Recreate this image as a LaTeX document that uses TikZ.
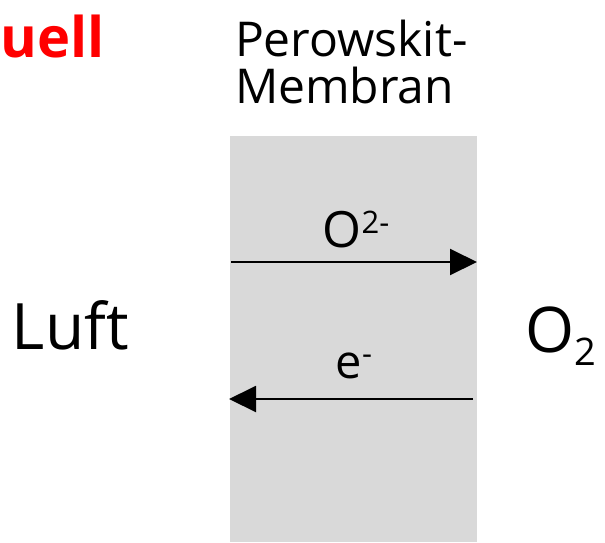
\documentclass[tikz,border=0pt]{standalone}
\usepackage{fontspec}
\setmainfont{Open Sans}
\usetikzlibrary{arrows.meta}
\definecolor{membran}{HTML}{D9D9D9}
\definecolor{titlered}{HTML}{FF0000}
\tikzset{
  lbl/.style={inner sep=0pt, outer sep=0pt},
  flow/.style={line width=2pt, -{Triangle[length=27pt,width=26pt]}},
}
\begin{document}
\begin{tikzpicture}[x=1pt,y=1pt]
\useasboundingbox (0,0) rectangle (605,-542);
\fill[membran] (230,-136) rectangle (477,-542);
\coordinate (aL) at (231,-262);
\coordinate (aR) at (477,-262);
\coordinate (bR) at (473,-399);
\coordinate (bL) at (229,-399);
\draw[flow] (aL) -- (aR);
\draw[flow] (bR) -- (bL);
\node[lbl, anchor=base east, text=titlered] (titel) at (105,-57) {\fontsize{56}{56}\selectfont\bfseries uell};
\node[lbl, anchor=base west] (mem1) at (235,-56) {\fontsize{48}{48}\selectfont Perowskit-};
\node[lbl, anchor=base west] (mem2) at (235,-103) {\fontsize{48}{48}\selectfont Membran};
\node[lbl, anchor=base west] (luft) at (12,-349) {\fontsize{64}{64}\selectfont Luft};
\node[lbl, anchor=base west] (o2) at (525,-352) {\fontsize{63}{63}\selectfont O\raisebox{-13pt}{\fontsize{38}{38}\selectfont 2}};
\node[lbl, anchor=base] (oion) at (356,-247) {\fontsize{50}{50}\selectfont O\raisebox{14pt}{\fontsize{31}{31}\selectfont 2-}};
\node[lbl, anchor=base] (elec) at (354,-378) {\fontsize{47}{47}\selectfont e\raisebox{14pt}{\fontsize{31}{31}\selectfont -}};
\end{tikzpicture}
\end{document}
